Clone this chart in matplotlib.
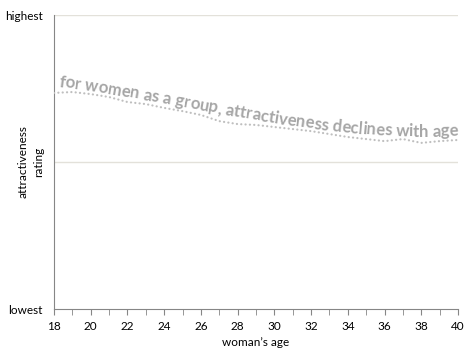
import numpy as np
import matplotlib
matplotlib.use("Agg")
import matplotlib.pyplot as plt
from matplotlib.font_manager import FontProperties, findfont, get_font

# woman's age vs attractiveness rating (0 = lowest, 10 = highest)
ages = [18, 19, 20, 21, 22, 23, 24, 25, 26, 27, 28, 29,
        30, 31, 32, 33, 34, 35, 36, 37, 38, 39, 40]
rating = [7.35, 7.38, 7.31, 7.21, 7.04, 6.97, 6.84, 6.73, 6.60, 6.39, 6.29, 6.26,
          6.19, 6.12, 6.05, 5.95, 5.85, 5.78, 5.71, 5.78, 5.65, 5.71, 5.75]
y_ticks = [0, 5, 10]
y_tick_labels = ["lowest", "", "highest"]
x_ticks = list(range(18, 41, 2))
caption = "for women as a group, attractiveness declines with age"

plt.rcParams["font.family"] = ["Lato", "DejaVu Sans"]

DPI = 100
fig = plt.figure(figsize=(4.66, 3.51), dpi=DPI)
ax = fig.add_axes([54 / 466, 1 - 309 / 351, 404 / 466, 294 / 351])

ax.plot(ages, rating, color="#bfbfbf", linewidth=1.6,
        linestyle=(0, (0.05, 1.9)), dash_capstyle="round", zorder=3)

ax.set_xlim(18, 40)
ax.set_ylim(0, 10)
ax.set_xticks(x_ticks)
ax.set_xticks(range(18, 41), minor=True)
ax.set_yticks(y_ticks)
ax.set_yticklabels(y_tick_labels)
ax.tick_params(axis="x", which="both", length=4, color="#868686",
               labelsize=8.5, pad=5)
ax.tick_params(axis="y", length=0, labelsize=8.5, pad=8)
for v in y_ticks[1:]:
    ax.axhline(v, color="#e3e1da", linewidth=1, zorder=1)

for side in ["top", "right"]:
    ax.spines[side].set_visible(False)
ax.spines["left"].set_color("#868686")
ax.spines["bottom"].set_color("#868686")

ax.set_xlabel("woman\u2019s age", fontsize=8.5, labelpad=3)
ax.set_ylabel("attractiveness\nrating", fontsize=8.5, linespacing=1.45)
ax.yaxis.set_label_coords(-0.025, 0.5)

# caption written along a smoothed copy of the curve, one character at a time
pts = ax.transData.transform(np.column_stack([ages, rating]))
coef = np.polyfit(pts[:, 0], pts[:, 1], 3)
bx = np.linspace(pts[0, 0], pts[-1, 0], 400)
by = np.polyval(coef, bx)
seg = np.hypot(np.diff(bx), np.diff(by))
arc = np.concatenate([[0], np.cumsum(seg)])

font = FontProperties(family="Lato", weight="bold", size=11)
ft = get_font(findfont(font))


def advances(size):
    ft.set_size(size, DPI)
    return np.array([ft.load_char(ord(ch)).linearHoriAdvance / 65536
                     for ch in caption])


s_start = np.interp(bx[0] + 4, bx, arc)
s_end = arc[-1]
size = 11 * (s_end - s_start) / advances(11).sum()
font.set_size(size)
adv = advances(size)
pos = s_start + np.concatenate([[0], np.cumsum(adv)[:-1]])
offset = 4.5  # pixels above the curve

for ch, s0, a in zip(caption, pos, adv):
    if ch == " ":
        continue
    sc = s0 + a / 2
    k = int(np.clip(np.searchsorted(arc, sc) - 1, 0, len(seg) - 1))
    ang = np.arctan2(by[k + 1] - by[k], bx[k + 1] - bx[k])
    px = np.interp(s0, arc, bx)
    py = np.interp(s0, arc, by)
    nx, ny = -np.sin(ang), np.cos(ang)
    fig.text((px + nx * offset) / fig.bbox.width,
             (py + ny * offset) / fig.bbox.height,
             ch, fontproperties=font, color="#a6a6a6",
             rotation=np.degrees(ang), rotation_mode="anchor",
             ha="left", va="baseline", zorder=4)

fig.savefig("out.png", dpi=DPI)
